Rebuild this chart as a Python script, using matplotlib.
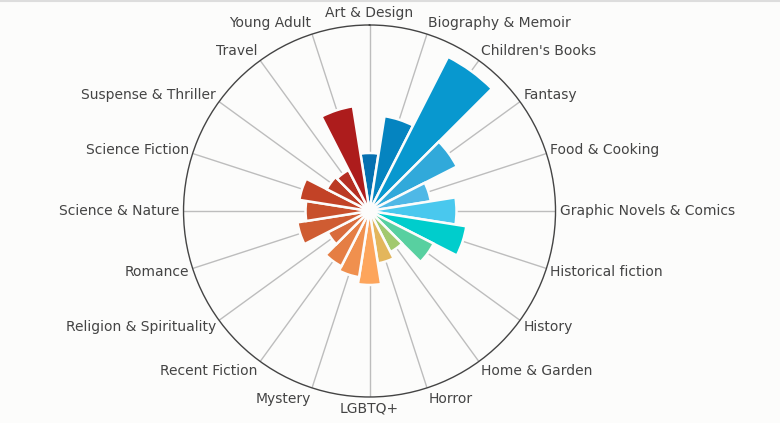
import numpy as np
import matplotlib
matplotlib.use("Agg")
import matplotlib.pyplot as plt

categories = ["Art & Design", "Biography & Memoir", "Children's Books", "Fantasy",
              "Food & Cooking", "Graphic Novels & Comics", "Historical fiction",
              "History", "Home & Garden", "Horror", "LGBTQ+", "Mystery",
              "Recent Fiction", "Religion & Spirituality", "Romance",
              "Science & Nature", "Science Fiction", "Suspense & Thriller",
              "Travel", "Young Adult"]

# bar lengths (same scale as the outer ring = 186)
values = [58, 96, 173, 98, 62, 87, 98, 72, 46, 53,
          74, 67, 62, 47, 73, 64, 71, 48, 46, 106]
r_max = 186

colors = ["#0570b0", "#0584c0", "#0898cf", "#31a9da", "#4fb8e6", "#49c8ee",
          "#00cdcc", "#58d0a0", "#a2c96e", "#e3b65c", "#fda55c", "#f0904e",
          "#e57e44", "#d96c3c", "#cf5c32", "#c8502c", "#c24226", "#bb3a24",
          "#b52e22", "#ad1c1c"]

bg = "#fcfcfb"
n = len(categories)
theta = np.arange(n) * 2 * np.pi / n

fig = plt.figure(figsize=(7.8, 4.23), dpi=100, facecolor=bg)
ax = fig.add_axes([0.2353, 0.0615, 0.4769, 0.8794], projection="polar")
ax.set_facecolor(bg)
ax.set_theta_zero_location("N")
ax.set_theta_direction(-1)
ax.set_ylim(0, r_max)
ax.grid(False)
ax.set_xticks([])
ax.set_yticks([])
ax.spines["polar"].set_color("#444444")
ax.spines["polar"].set_linewidth(1.0)

# spokes
for t in theta:
    ax.plot([t, t], [0, r_max], color="#bdbdbd", lw=1.0, zorder=1)

bars = ax.bar(theta, values, width=2 * np.pi / n, color=colors,
              edgecolor=bg, linewidth=1.8, zorder=2)
for b in bars:
    b.set_joinstyle("miter")

for t, lab in zip(theta, categories):
    s, c = np.sin(t), np.cos(t)
    if s > 0.01:
        ha = "left"
    elif s < -0.01:
        ha = "right"
    else:
        ha = "center"
    ax.annotate(lab, xy=(t, r_max), xytext=(4 * s, 12 * c),
                textcoords="offset pixels", ha=ha, va="center",
                fontsize=10, color="#444444", annotation_clip=False)

fig.add_artist(plt.Line2D([0, 1], [0.997, 0.997], color="#dddddd", lw=1.5))

fig.savefig("out.png", dpi=100, facecolor=bg)
